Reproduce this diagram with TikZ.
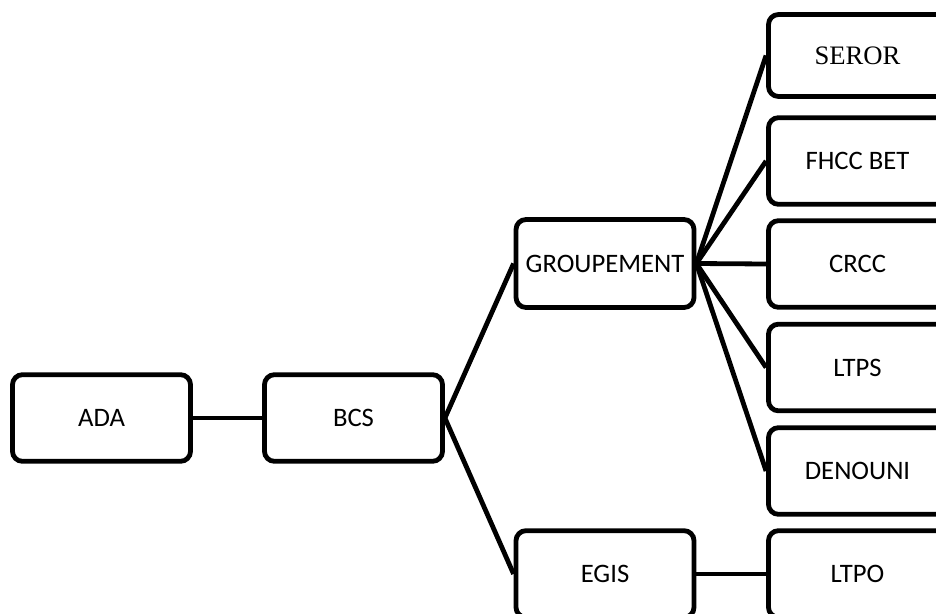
\documentclass[tikz,border=0pt]{standalone}
\usepackage{fontspec}
\setmainfont{Carlito}
\newfontfamily\serorfont{Liberation Serif}
\usepackage{tikz}
\tikzset{
box/.style={draw, line width=3.6pt, rounded corners=7.5pt, inner sep=0pt,
  minimum width=133.5pt, minimum height=65pt, font=\fontsize{20}{24}\selectfont},
link/.style={line width=3.6pt},
}

\begin{document}
\begin{tikzpicture}[x=0.75pt,y=0.75pt,yscale=-1,xscale=1]
\clip (0,0) rectangle (936,614);
%Boxes
\node [box] (ada) at (101.5,418) {ADA};
\node [box] (bcs) at (353.5,418) {BCS};
\node [box, minimum height=66pt] (grp) at (605,263.5) {GROUPEMENT};
\node [box] (egis) at (605,574) {EGIS};
\node [box, minimum height=61.5pt, font=\fontsize{20}{24}\serorfont] (seror) at (857.5,55.5) {SEROR};
\node [box] (fhcc) at (857.5,161) {FHCC BET};
\node [box] (crcc) at (857.5,264) {CRCC};
\node [box] (ltps) at (857.5,367.5) {LTPS};
\node [box] (denouni) at (857.5,471) {DENOUNI};
\node [box] (ltpo) at (857.5,574) {LTPO};
%Links
\draw [link] (ada.east) -- (bcs.west);
\draw [link] (bcs.east) -- (grp.west);
\draw [link] (bcs.east) -- (egis.west);
\draw [link] (egis.east) -- (ltpo.west);
\foreach \n in {seror,fhcc,crcc,ltps,denouni}
  \draw [link] (grp.east) -- (\n.west);
\end{tikzpicture}
\end{document}
